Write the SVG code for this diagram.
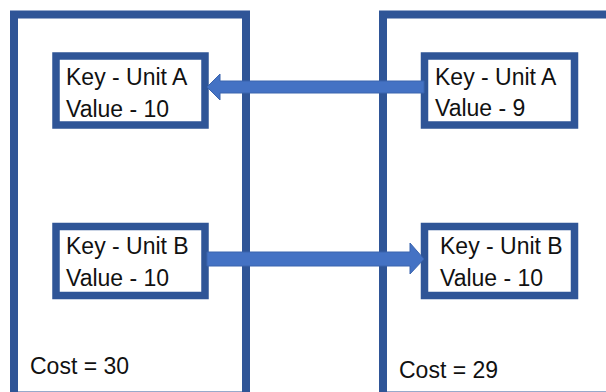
<svg xmlns="http://www.w3.org/2000/svg" width="606" height="392" viewBox="0 0 606 392">
  <style>
    .frame { fill: #ffffff; stroke: #2F5597; stroke-width: 8; }
    .unit { fill: #ffffff; stroke: #2F5597; stroke-width: 7.5; }
    .label { font-family: "Liberation Sans", Arial, sans-serif; font-size: 23px; fill: #111111; }
    .arrow { fill: #4472C4; stroke: #3A64AE; stroke-width: 1; }
  </style>
  <rect width="606" height="392" fill="#ffffff"/>

  <!-- left system -->
  <g id="system-left">
    <rect class="frame" x="14" y="14.5" width="232" height="381"/>
    <text class="label" x="30" y="374">Cost = 30</text>
  </g>

  <!-- right system -->
  <g id="system-right">
    <rect class="frame" x="383" y="14.5" width="240" height="381"/>
    <text class="label" x="399" y="378">Cost = 29</text>
  </g>

  <g id="left-unit-a">
    <rect class="unit" x="56" y="56" width="149" height="69"/>
    <text class="label" x="66" y="85">Key - Unit A</text>
    <text class="label" x="66" y="117">Value - 10</text>
  </g>

  <g id="left-unit-b">
    <rect class="unit" x="56" y="226.5" width="149" height="69"/>
    <text class="label" x="66" y="254">Key - Unit B</text>
    <text class="label" x="66" y="286">Value - 10</text>
  </g>

  <g id="right-unit-a">
    <rect class="unit" x="424.5" y="56" width="150" height="69"/>
    <text class="label" x="435" y="85">Key - Unit A</text>
    <text class="label" x="435" y="116">Value - 9</text>
  </g>

  <g id="right-unit-b">
    <rect class="unit" x="424.5" y="226.5" width="150" height="69"/>
    <text class="label" x="440" y="254">Key - Unit B</text>
    <text class="label" x="440" y="286">Value - 10</text>
  </g>

  <!-- block arrows between units -->
  <g id="connectors">
    <polygon class="arrow" points="207,87 220,74 220,81 424,81 424,93 220,93 220,100"/>
    <polygon class="arrow" points="207,252 410,252 410,243 424,259 410,274 410,266 207,266"/>
  </g>
</svg>
